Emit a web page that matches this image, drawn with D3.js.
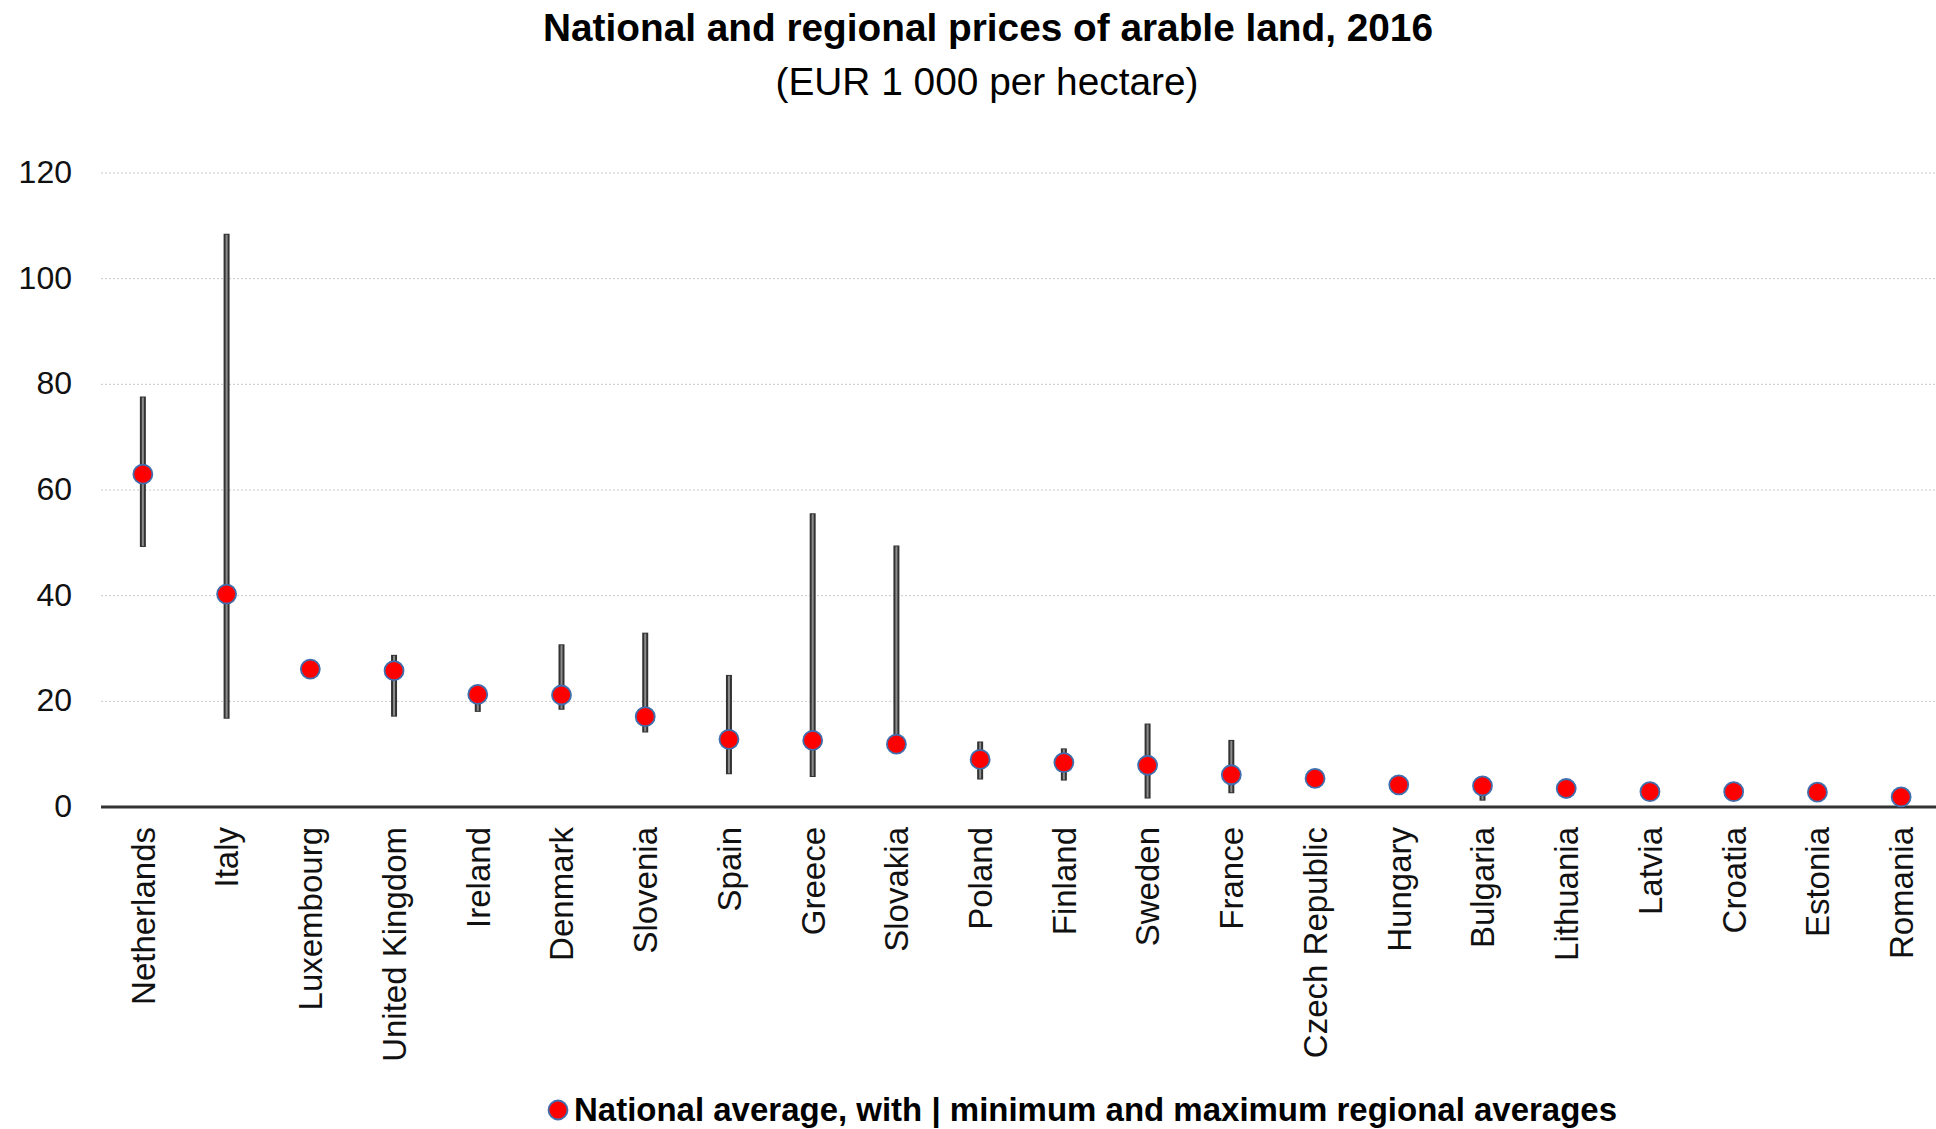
<!DOCTYPE html>
<meta charset="utf-8">
<script src="https://d3js.org/d3.v7.min.js"></script>
<style>
  body { margin: 0; background: #fff; }
  svg { display: block; font-family: "Liberation Sans", Arial, sans-serif; }
  .grid line { stroke: #c8c8c8; stroke-width: 1px; stroke-dasharray: 2px 2px; }
  .y.axis text { font-size: 32px; fill: #111; }
  .x.axis text { font-size: 33px; fill: #111; }
  .axis path, .axis line { display: none; }
</style>
<body>
<script>

// data: national average with min / max regional averages (EUR 1 000 per ha)
var countries = ["Netherlands", "Italy", "Luxembourg", "United Kingdom", "Ireland", "Denmark",
  "Slovenia", "Spain", "Greece", "Slovakia", "Poland", "Finland", "Sweden", "France",
  "Czech Republic", "Hungary", "Bulgaria", "Lithuania", "Latvia", "Croatia", "Estonia", "Romania"];
var national = [63.0, 40.3, 26.1, 25.8, 21.3, 21.2, 17.1, 12.8, 12.6, 11.9, 9.0, 8.4, 7.9, 6.1,
  5.4, 4.2, 4.0, 3.5, 2.9, 2.9, 2.8, 1.9];
var regionMin = [49.2, 16.7, null, 17.1, 18.0, 18.4, 14.1, 6.2, 5.7, 11.0, 5.2, 5.0, 1.6, 2.6,
  null, null, 1.2, null, null, null, null, null];
var regionMax = [77.7, 108.5, null, 28.8, 22.0, 30.8, 33.0, 25.0, 55.6, 49.5, 12.4, 11.1, 15.8, 12.7,
  null, null, 5.0, null, null, null, null, null];
var yTicks = [0, 20, 40, 60, 80, 100, 120];

var data = countries.map(function(c, i) {
  return { country: c, avg: national[i], min: regionMin[i], max: regionMax[i] };
});

var W = 1936, H = 1129;
var plot = { left: 101, right: 1943, top: 173, bottom: 807 };

var svg = d3.select("body").append("svg")
  .attr("width", W)
  .attr("height", H);

var xScale = d3.scaleBand()
  .domain(countries)
  .range([plot.left, plot.right]);

var yScale = d3.scaleLinear()
  .domain([0, 120])
  .range([plot.bottom, plot.top]);

function cx(d) { return xScale(d.country) + xScale.bandwidth() / 2; }

// gridlines
svg.append("g")
  .attr("class", "grid")
  .selectAll("line")
  .data(yTicks.filter(function(d) { return d > 0; }))
  .enter().append("line")
  .attr("x1", plot.left)
  .attr("x2", W)
  .attr("y1", function(d) { return yScale(d); })
  .attr("y2", function(d) { return yScale(d); });

// y axis labels
svg.append("g")
  .attr("class", "y axis")
  .attr("transform", "translate(72,0)")
  .call(d3.axisLeft(yScale).tickValues(yTicks).tickSize(0).tickPadding(0))
  .selectAll("text")
  .attr("dy", "0.3em");

// baseline
svg.append("line")
  .attr("x1", plot.left)
  .attr("x2", W)
  .attr("y1", yScale(0))
  .attr("y2", yScale(0))
  .style("stroke", "#333")
  .style("stroke-width", 3);

// x axis labels
svg.append("g")
  .attr("class", "x axis")
  .attr("transform", "translate(0," + (yScale(0) + 20) + ")")
  .call(d3.axisBottom(xScale).tickSize(0).tickPadding(0))
  .selectAll("text")
  .attr("transform", "rotate(-90)")
  .attr("text-anchor", "end")
  .attr("x", 0)
  .attr("y", 0)
  .attr("dy", "0.36em");

// min-max ranges
var ranged = data.filter(function(d) { return d.min != null; });
var ranges = svg.append("g").selectAll("g")
  .data(ranged).enter().append("g");

ranges.append("line")
  .attr("x1", cx)
  .attr("x2", cx)
  .attr("y1", function(d) { return yScale(d.min); })
  .attr("y2", function(d) { return yScale(d.max); })
  .style("stroke", "#333")
  .style("stroke-width", 6);

ranges.append("line")
  .attr("x1", cx)
  .attr("x2", cx)
  .attr("y1", function(d) { return yScale(d.min) - 1; })
  .attr("y2", function(d) { return yScale(d.max) + 1; })
  .style("stroke", "#8c8c8c")
  .style("stroke-width", 2);

// national averages
svg.append("g").selectAll("circle")
  .data(data).enter().append("circle")
  .attr("cx", cx)
  .attr("cy", function(d) { return yScale(d.avg); })
  .attr("r", 9.5)
  .style("fill", "#ff0000")
  .style("stroke", "#3f6fae")
  .style("stroke-width", 1.8);

// titles
svg.append("text")
  .attr("x", 988)
  .attr("y", 41)
  .attr("text-anchor", "middle")
  .attr("textLength", 890)
  .attr("lengthAdjust", "spacingAndGlyphs")
  .style("font-size", "38px")
  .style("font-weight", "bold")
  .text("National and regional prices of arable land, 2016");

svg.append("text")
  .attr("x", 987)
  .attr("y", 95)
  .attr("text-anchor", "middle")
  .attr("textLength", 423)
  .attr("lengthAdjust", "spacingAndGlyphs")
  .style("font-size", "38px")
  .text("(EUR 1 000 per hectare)");

// legend
svg.append("circle")
  .attr("cx", 558)
  .attr("cy", 1110)
  .attr("r", 9.5)
  .style("fill", "#ff0000")
  .style("stroke", "#3f6fae")
  .style("stroke-width", 1.8);

svg.append("text")
  .attr("x", 574)
  .attr("y", 1121)
  .attr("textLength", 1043)
  .attr("lengthAdjust", "spacingAndGlyphs")
  .style("font-size", "33px")
  .style("font-weight", "bold")
  .text("National average, with | minimum and maximum regional averages");

</script>
</body>
